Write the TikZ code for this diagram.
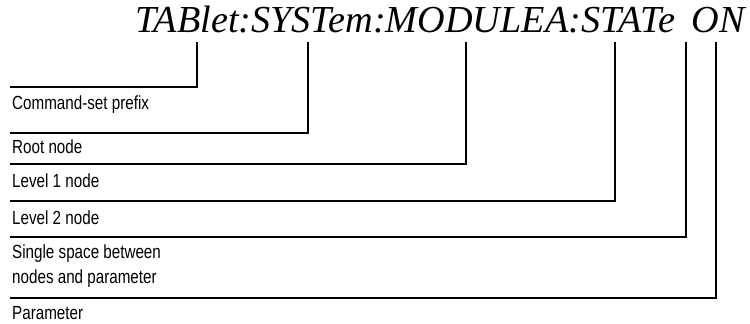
\documentclass[tikz,border=0pt]{standalone}
\usepackage{fontspec}
\setmainfont{Liberation Serif}
\newfontfamily\labelfont[FakeStretch=0.8]{Liberation Sans}
\begin{document}
\begin{tikzpicture}[
  x = 1pt, y = -1pt,
  lead/.style = {line width = 1.6pt},
  lbl/.style = {anchor = base west, inner sep = 0pt, align = left,
    font = \labelfont\fontsize{19}{24.5}\selectfont},
]
% pixel grid of the reference: 750 x 324
\useasboundingbox (0,0) rectangle (750,324);
\def\ytop{42}
\def\xleft{10}

\node[anchor = base east, inner sep = 0pt, font = \itshape\fontsize{38.2}{40}\selectfont]
  (cmd) at (745,32) {TABlet:SYSTem:MODULEA:STATe\hspace{7pt} ON};

% upper ends, under the command
\coordinate (tprefix) at (197,\ytop);
\coordinate (troot)   at (308,\ytop);
\coordinate (tlevA)   at (466,\ytop);
\coordinate (tlevB)   at (615,\ytop);
\coordinate (tspace)  at (686,\ytop);
\coordinate (tparam)  at (716,\ytop);

% left ends
\coordinate (lprefix) at (\xleft,87);
\coordinate (lroot)   at (\xleft,133);
\coordinate (llevA)   at (\xleft,164);
\coordinate (llevB)   at (\xleft,201);
\coordinate (lspace)  at (\xleft,237);
\coordinate (lparam)  at (\xleft,298);

\node[lbl] (prefix) at (12,109) {Command-set prefix};
\node[lbl] (root)   at (12,153) {Root node};
\node[lbl] (levA)   at (12,187) {Level 1 node};
\node[lbl] (levB)   at (12,224) {Level 2 node};
\node[lbl] (space)  at (12,283) {Single space between\\nodes and parameter};
\node[lbl] (param)  at (12,319) {Parameter};

\draw[lead] (tprefix) |- (lprefix);
\draw[lead] (troot)   |- (lroot);
\draw[lead] (tlevA)   |- (llevA);
\draw[lead] (tlevB)   |- (llevB);
\draw[lead] (tspace)  |- (lspace);
\draw[lead] (tparam)  |- (lparam);

\end{tikzpicture}
\end{document}
